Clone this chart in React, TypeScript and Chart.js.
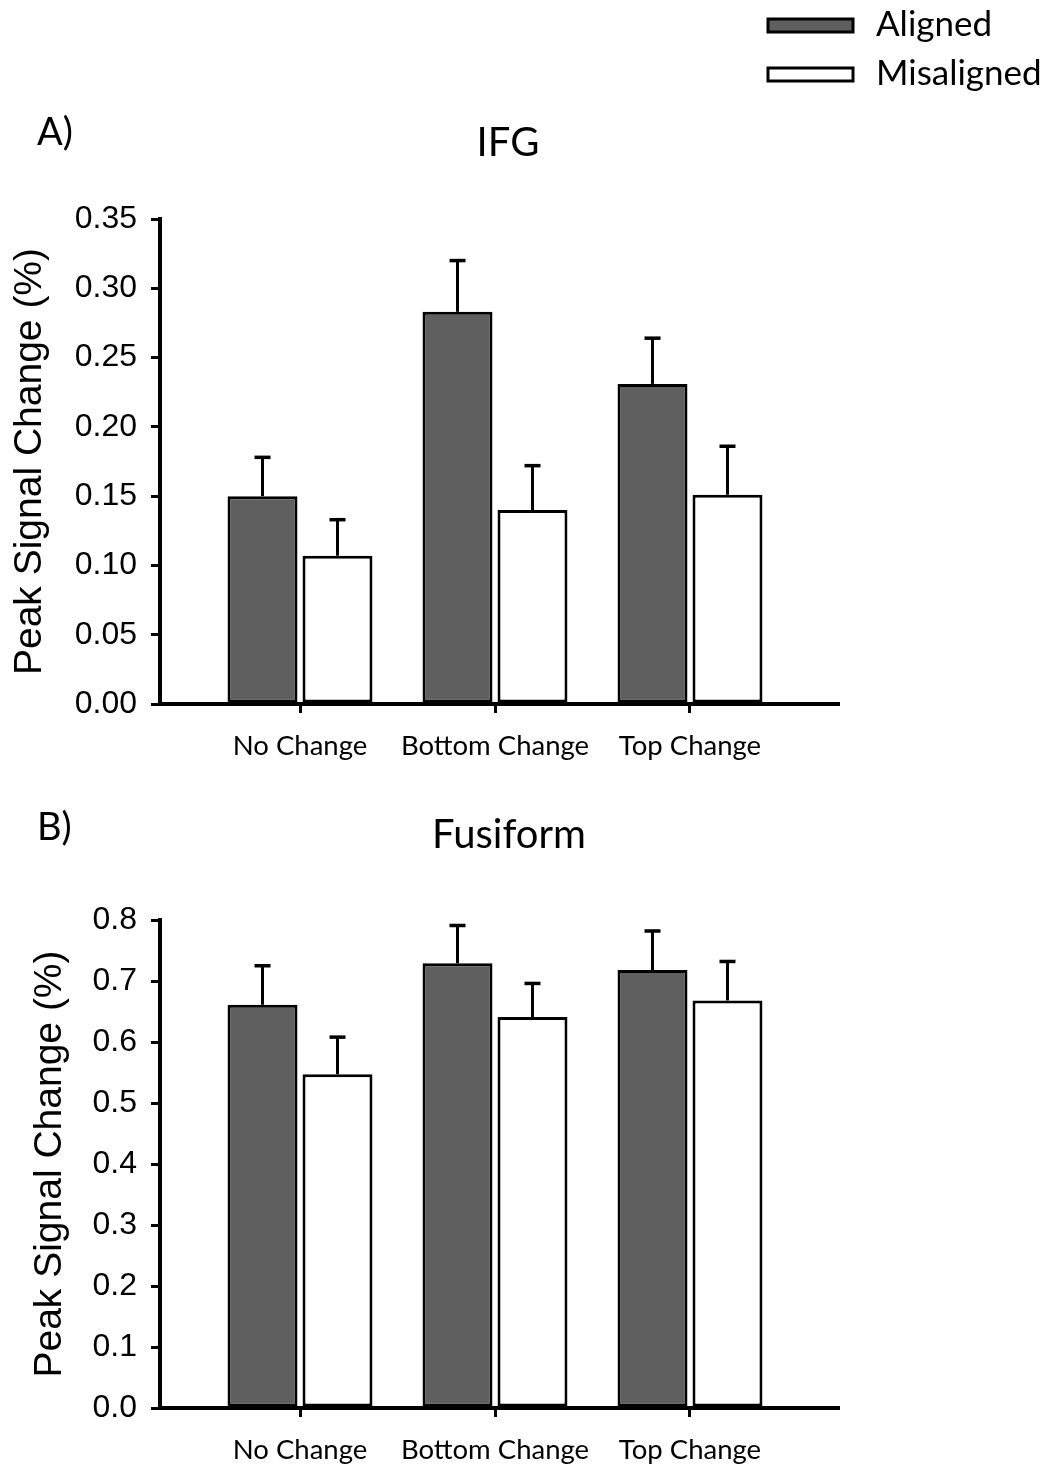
import React, { useEffect, useRef } from 'react';
import { Chart, registerables } from 'chart.js';

Chart.register(...registerables);

// ---------------- data ----------------
const CATEGORIES = ['No Change', 'Bottom Change', 'Top Change'];
const SERIES_NAMES = ['Aligned', 'Misaligned'];

const IFG_ALIGNED = [0.150, 0.283, 0.231];
const IFG_ALIGNED_SE = [0.028, 0.037, 0.033];
const IFG_MISALIGNED = [0.107, 0.140, 0.151];
const IFG_MISALIGNED_SE = [0.026, 0.032, 0.035];
const IFG_TICKS = [0, 0.05, 0.1, 0.15, 0.2, 0.25, 0.3, 0.35];

const FUS_ALIGNED = [0.661, 0.729, 0.718];
const FUS_ALIGNED_SE = [0.064, 0.062, 0.064];
const FUS_MISALIGNED = [0.547, 0.641, 0.668];
const FUS_MISALIGNED_SE = [0.061, 0.055, 0.064];
const FUS_TICKS = [0, 0.1, 0.2, 0.3, 0.4, 0.5, 0.6, 0.7, 0.8];

// ---------------- style ----------------
const ALIGNED_COLOR = '#5f5f5f';
const MISALIGNED_COLOR = '#ffffff';
const ARIAL = "'Liberation Sans', Arial, sans-serif";
const CAL = "Lato, 'Open Sans', sans-serif";
const X_MIN = -0.718;
const X_MAX = 2.759;

const errorBarPlugin = {
  id: 'errorBars',
  afterDatasetsDraw(chart: any) {
    const ctx = chart.ctx;
    const yScale = chart.scales.y;
    ctx.save();
    ctx.strokeStyle = '#000';
    chart.data.datasets.forEach((ds: any, i: number) => {
      const meta = chart.getDatasetMeta(i);
      meta.data.forEach((bar: any, j: number) => {
        const v = ds.data[j].y;
        const e = ds.errors[j];
        const yTop = yScale.getPixelForValue(v + e);
        ctx.lineWidth = 3;
        ctx.beginPath();
        ctx.moveTo(bar.x, bar.y);
        ctx.lineTo(bar.x, yTop);
        ctx.stroke();
        ctx.lineWidth = 3.5;
        ctx.beginPath();
        ctx.moveTo(bar.x - 8, yTop);
        ctx.lineTo(bar.x + 8, yTop);
        ctx.stroke();
      });
    });
    ctx.restore();
  },
};

const decorPlugin = {
  id: 'decor',
  afterDraw(chart: any, _args: any, opts: any) {
    const ctx = chart.ctx;
    ctx.save();
    ctx.fillStyle = '#000';
    ctx.textBaseline = 'middle';
    if (opts.title) {
      ctx.font = `40px ${CAL}`;
      ctx.textAlign = 'center';
      ctx.fillText(opts.title, opts.titleX, opts.titleY);
    }
    if (opts.panel) {
      ctx.font = `38px ${CAL}`;
      ctx.textAlign = 'left';
      ctx.fillText(opts.panel, opts.panelX, opts.panelY);
    }
    if (opts.legend) {
      chart.data.datasets.forEach((ds: any, i: number) => {
        const cy = opts.legendY + i * opts.legendGap;
        ctx.fillStyle = ds.backgroundColor;
        ctx.fillRect(opts.legendX, cy - 6.5, 85, 13);
        ctx.strokeStyle = '#000';
        ctx.lineWidth = 3;
        ctx.strokeRect(opts.legendX, cy - 6.5, 85, 13);
        ctx.fillStyle = '#000';
        ctx.font = `35px ${CAL}`;
        ctx.textAlign = 'left';
        ctx.fillText(ds.label, opts.legendX + 108, cy - 1);
      });
    }
    ctx.restore();
  },
};

function makeConfig(p: any): any {
  const toPoints = (vals: number[]) => vals.map((v, i) => ({ x: i, y: v }));
  return {
    type: 'bar',
    data: {
      datasets: [
        {
          label: SERIES_NAMES[0],
          data: toPoints(p.aligned),
          errors: p.alignedErr,
          backgroundColor: ALIGNED_COLOR,
          borderColor: '#000',
          borderWidth: 3,
          borderSkipped: false,
        },
        {
          label: SERIES_NAMES[1],
          data: toPoints(p.mis),
          errors: p.misErr,
          backgroundColor: MISALIGNED_COLOR,
          borderColor: '#000',
          borderWidth: 3,
          borderSkipped: false,
        },
      ],
    },
    options: {
      responsive: false,
      maintainAspectRatio: false,
      animation: false,
      events: [],
      categoryPercentage: 0.769,
      barPercentage: 0.933,
      layout: { padding: { left: p.padLeft, top: p.padTop, right: 211, bottom: 0 } },
      plugins: {
        legend: { display: false },
        tooltip: { enabled: false },
        title: { display: false },
        decor: p.decor,
      },
      scales: {
        x: {
          type: 'linear',
          min: X_MIN,
          max: X_MAX,
          offset: false,
          afterBuildTicks: (s: any) => {
            s.ticks = CATEGORIES.map((_, i) => ({ value: i }));
          },
          afterFit: (s: any) => {
            s.height = p.xHeight;
          },
          ticks: {
            autoSkip: false,
            maxRotation: 0,
            minRotation: 0,
            padding: 17,
            color: '#000',
            font: { family: CAL, size: 27.5 },
            callback: (v: any) => CATEGORIES[v] ?? '',
          },
          grid: {
            offset: false,
            drawOnChartArea: false,
            drawTicks: true,
            tickLength: 9,
            color: '#000',
            lineWidth: 3,
          },
          border: { display: true, color: '#000', width: 4 },
        },
        y: {
          type: 'linear',
          min: p.ticks[0],
          max: p.ticks[p.ticks.length - 1],
          afterBuildTicks: (s: any) => {
            s.ticks = p.ticks.map((v: number) => ({ value: v }));
          },
          afterFit: (s: any) => {
            s.width = 160 - p.padLeft;
          },
          ticks: {
            padding: 14,
            color: '#000',
            font: { family: ARIAL, size: 32 },
            callback: (v: any) => Number(v).toFixed(p.decimals),
          },
          grid: { drawOnChartArea: false, drawTicks: true, tickLength: 9, color: '#000', lineWidth: 3 },
          border: { display: true, color: '#000', width: 4 },
          title: {
            display: true,
            text: 'Peak Signal Change (%)',
            color: '#000',
            font: { family: ARIAL, size: 39 },
            padding: 0,
          },
        },
      },
    },
    plugins: [errorBarPlugin, decorPlugin],
  };
}

export default function App() {
  const refA = useRef<HTMLCanvasElement>(null);
  const refB = useRef<HTMLCanvasElement>(null);

  useEffect(() => {
    const a = new Chart(
      refA.current as HTMLCanvasElement,
      makeConfig({
        aligned: IFG_ALIGNED,
        alignedErr: IFG_ALIGNED_SE,
        mis: IFG_MISALIGNED,
        misErr: IFG_MISALIGNED_SE,
        ticks: IFG_TICKS,
        decimals: 2,
        padLeft: 7,
        padTop: 219,
        xHeight: 76,
        decor: {
          title: 'IFG',
          titleX: 508,
          titleY: 143,
          panel: 'A)',
          panelX: 37,
          panelY: 133,
          legend: true,
          legendX: 768,
          legendY: 25.5,
          legendGap: 49,
        },
      })
    );
    const b = new Chart(
      refB.current as HTMLCanvasElement,
      makeConfig({
        aligned: FUS_ALIGNED,
        alignedErr: FUS_ALIGNED_SE,
        mis: FUS_MISALIGNED,
        misErr: FUS_MISALIGNED_SE,
        ticks: FUS_TICKS,
        decimals: 1,
        padLeft: 27,
        padTop: 140,
        xHeight: 60,
        decor: {
          title: 'Fusiform',
          titleX: 509,
          titleY: 55,
          panel: 'B)',
          panelX: 37,
          panelY: 48,
          legend: false,
        },
      })
    );
    return () => {
      a.destroy();
      b.destroy();
    };
  }, []);

  return (
    <div style={{ position: 'absolute', left: 0, top: 0, width: 1049, height: 1468, background: '#fff' }}>
      <canvas
        ref={refA}
        width={1049}
        height={780}
        style={{ position: 'absolute', left: 0, top: 0, width: 1049, height: 780 }}
      />
      <canvas
        ref={refB}
        width={1049}
        height={688}
        style={{ position: 'absolute', left: 0, top: 780, width: 1049, height: 688 }}
      />
    </div>
  );
}
